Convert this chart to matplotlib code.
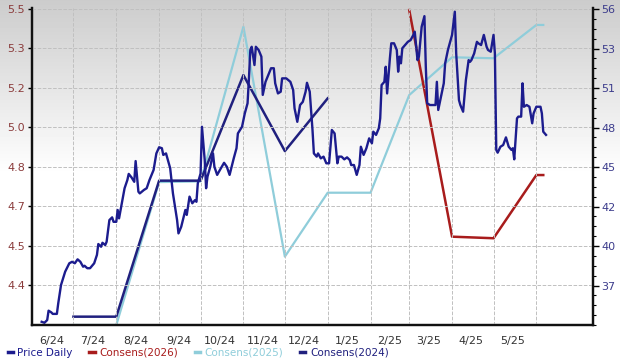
import matplotlib
matplotlib.use("Agg")
import matplotlib.pyplot as plt
from matplotlib.ticker import AutoMinorLocator
import numpy as np
import pandas as pd

# days since 2024-06-01 and daily price
price_days = [7, 9, 11, 12, 14, 15, 18, 19, 21, 24, 26, 27, 29, 31, 33, 35, 37, 38, 40, 42,
              45, 47, 48, 50, 51, 53, 54, 56, 58, 59, 61, 62, 63, 65, 67, 69, 70, 72, 74, 75,
              77, 78, 81, 83, 85, 87, 88, 90, 92, 94, 95, 97, 99, 100, 102, 105, 106, 108, 111, 112,
              114, 116, 118, 119, 120, 122, 123, 125, 126, 127, 129, 131, 132, 134, 136, 139, 141, 143, 146, 148,
              149, 152, 153, 154, 156, 157, 158, 159, 161, 162, 164, 166, 167, 169, 171, 173, 175, 176, 178, 180,
              181, 184, 187, 189, 190, 192, 194, 196, 198, 199, 201, 203, 204, 206, 207, 209, 211, 213, 215, 217,
              219, 221, 222, 224, 226, 228, 230, 231, 233, 235, 237, 238, 240, 242, 244, 246, 247, 249, 251, 252,
              253, 255, 256, 257, 259, 260, 262, 264, 265, 266, 267, 268, 270, 272, 274, 276, 277, 279, 280, 282,
              284, 285, 286, 288, 292, 293, 294, 296, 298, 299, 301, 304, 306, 307, 309, 310, 312, 314, 316, 317,
              318, 320, 322, 323, 325, 327, 329, 330, 332, 334, 335, 336, 337, 339, 341, 343, 345, 347, 348, 349,
              351, 352, 354, 355, 356, 358, 360, 362, 363, 365, 368, 369, 370, 372]
price = [4.253, 4.249, 4.260, 4.298, 4.291, 4.285, 4.285, 4.328, 4.402, 4.456, 4.479, 4.490, 4.496, 4.490, 4.506, 4.496, 4.476, 4.480, 4.470, 4.470,
         4.490, 4.524, 4.568, 4.557, 4.573, 4.564, 4.577, 4.665, 4.676, 4.658, 4.658, 4.706, 4.672, 4.733, 4.794, 4.827, 4.852, 4.838, 4.820, 4.904,
         4.780, 4.773, 4.787, 4.794, 4.827, 4.854, 4.868, 4.935, 4.960, 4.956, 4.929, 4.935, 4.895, 4.875, 4.773, 4.665, 4.611, 4.638, 4.706, 4.686,
         4.760, 4.733, 4.746, 4.739, 4.814, 4.854, 5.043, 4.908, 4.794, 4.841, 4.881, 4.935, 4.881, 4.848, 4.868, 4.897, 4.881, 4.848, 4.915, 4.956,
         5.016, 5.043, 5.070, 5.097, 5.138, 5.239, 5.354, 5.367, 5.293, 5.367, 5.354, 5.327, 5.172, 5.225, 5.253, 5.280, 5.280, 5.219, 5.178, 5.185,
         5.239, 5.239, 5.225, 5.192, 5.118, 5.063, 5.131, 5.144, 5.185, 5.221, 5.185, 5.030, 4.935, 4.922, 4.935, 4.915, 4.922, 4.895, 4.895, 5.030,
         5.016, 4.895, 4.922, 4.922, 4.911, 4.919, 4.908, 4.888, 4.888, 4.848, 4.888, 4.962, 4.929, 4.956, 4.996, 4.976, 5.023, 5.010, 5.037, 5.077,
         5.212, 5.225, 5.286, 5.178, 5.320, 5.381, 5.381, 5.354, 5.266, 5.327, 5.300, 5.361, 5.374, 5.387, 5.394, 5.415, 5.428, 5.313, 5.327, 5.448,
         5.491, 5.286, 5.138, 5.131, 5.131, 5.225, 5.111, 5.165, 5.219, 5.300, 5.354, 5.415, 5.509, 5.340, 5.151, 5.131, 5.104, 5.232, 5.313, 5.306,
         5.313, 5.340, 5.387, 5.381, 5.374, 5.415, 5.367, 5.354, 5.347, 5.415, 5.340, 4.949, 4.938, 4.962, 4.969, 5.000, 4.962, 4.949, 4.956, 4.911,
         5.077, 5.084, 5.084, 5.219, 5.124, 5.131, 5.124, 5.057, 5.097, 5.124, 5.124, 5.097, 5.023, 5.010]

# consensus estimates (right axis)
c2024_days = [30, 61, 92, 122, 153, 183, 214]
c2024 = [35.08, 35.08, 44.55, 44.55, 51.90, 46.61, 50.28]
c2025_days = [30, 61, 92, 122, 153, 183, 214, 245, 273, 304, 334, 365, 370]
c2025 = [34.50, 34.50, 44.45, 44.50, 55.27, 39.26, 43.71, 43.71, 50.51, 53.14, 53.07, 55.39, 55.39]
c2026_days = [273, 304, 334, 365, 370]
c2026 = [56.43, 40.65, 40.54, 44.94, 44.94]

left_ticks = ['4.4', '4.5', '4.7', '4.8', '5.0', '5.2', '5.3', '5.5']
right_ticks = ['37', '40', '42', '45', '48', '51', '53', '56']
month_labels = ['6/24', '7/24', '8/24', '9/24', '10/24', '11/24', '12/24', '1/25', '2/25', '3/25', '4/25', '5/25']

base = pd.Timestamp('2024-06-01')
def to_dates(d):
    return base + pd.to_timedelta(d, unit='D')

c_price = '#1c1c8e'
c_red = '#a81c1c'
c_light = '#8fcdda'
c_navy = '#20207e'

fig = plt.figure(figsize=(6.2, 3.6), dpi=100)

# background gradient
bg = fig.add_axes([0, 0, 1, 1], zorder=-10)
grad = np.concatenate([np.linspace(0.80, 1.0, 175), np.ones(185)])
bg.imshow(grad[:, None], cmap='gray', vmin=0, vmax=1, aspect='auto', extent=[0, 1, 0, 1])
bg.axis('off')

ax = fig.add_axes([32/620, 1 - 325/360, (593 - 32)/620, (325 - 8)/360])
ax.set_facecolor('none')
ax2 = ax.twinx()

ax.set_zorder(2)
ax2.set_zorder(1)
ax.patch.set_visible(False)

ax2.plot(to_dates(c2025_days), c2025, color=c_light, lw=1.6)
ax2.plot(to_dates(c2024_days), c2024, color=c_navy, lw=1.8)
ax2.plot(to_dates(c2026_days), c2026, color=c_red, lw=1.8)
ax.plot(to_dates(price_days), price, color=c_price, lw=1.7)

ax.set_xlim(base, base + pd.Timedelta(days=406))
ax.set_ylim(4.240, 5.524)
ax2.set_ylim(34.50, 56.57)

lt = [4.40 + 0.16 * k for k in range(8)]
ax.set_yticks(lt)
ax.set_yticklabels(left_ticks, color='#8b3c3c', fontsize=8)
rt = [37.25 + 2.75 * k for k in range(8)]
ax2.set_yticks(rt)
ax2.set_yticklabels(right_ticks, color='#3c3c8c', fontsize=8)
ax2.yaxis.set_minor_locator(AutoMinorLocator(4))
ax2.tick_params(axis='y', which='major', length=4, width=1, pad=2)
ax2.tick_params(axis='y', which='minor', length=2.5, width=0.8)

mids = [pd.Timestamp(2024 + (5 + i) // 12, (5 + i) % 12 + 1, 15) for i in range(12)]
starts = [pd.Timestamp(2024 + (6 + i) // 12, (6 + i) % 12 + 1, 1) for i in range(12)]
ax.set_xticks(mids)
ax.set_xticklabels(month_labels, fontsize=8, color='#333333')
ax.set_xticks(starts, minor=True)
ax.tick_params(axis='x', which='both', length=0, pad=8)
ax.tick_params(axis='y', length=3, width=1, pad=2)

ax.grid(True, axis='y', which='major', color='#c0c0c0', ls='--', lw=0.7)
ax.grid(True, axis='x', which='minor', color='#c0c0c0', ls='--', lw=0.7)
ax.grid(False, axis='x', which='major')

for a in (ax, ax2):
    a.spines['top'].set_visible(False)
    for s in ('left', 'right', 'bottom'):
        a.spines[s].set_linewidth(1.6)
        a.spines[s].set_color('#111111')

handles = [plt.Line2D([], [], color=c, lw=2.5) for c in (c_price, c_red, c_light, c_navy)]
names = ['Price Daily', 'Consens(2026)', 'Consens(2025)', 'Consens(2024)']
leg = fig.legend(handles, names, loc='lower left', bbox_to_anchor=(-0.003, -0.02), ncol=4,
                 frameon=False, fontsize=7.5, handlelength=0.5, handletextpad=0.45,
                 columnspacing=1.6)
for t, c in zip(leg.get_texts(), (c_price, c_red, c_light, c_navy)):
    t.set_color(c)

fig.savefig('out.png', dpi=100)
